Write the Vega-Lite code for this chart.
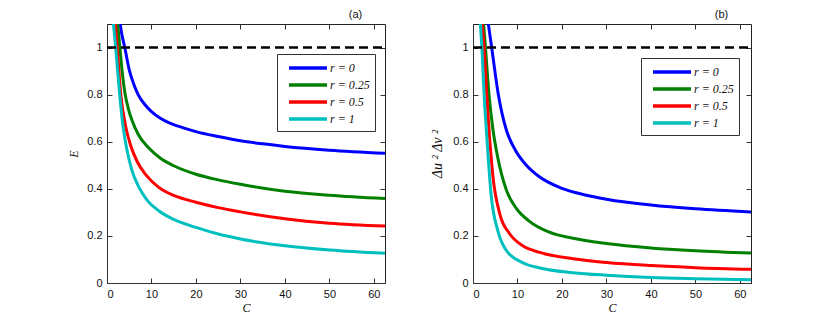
{
  "$schema": "https://vega.github.io/schema/vega-lite/v6.json",
  "padding": {"left": 67, "top": 8, "right": 0, "bottom": 0},
  "background": "white",
  "bounds": "flush",
  "spacing": 88,
  "config": {
    "view": {"stroke": "#222", "strokeWidth": 1},
    "axis": {
      "grid": false,
      "domainColor": "#333",
      "tickColor": "#333",
      "tickSize": -5,
      "labelPadding": 10,
      "labelFont": "Liberation Sans",
      "labelFontSize": 11,
      "labelColor": "#111",
      "titleFont": "Liberation Serif",
      "titleFontStyle": "italic",
      "titleFontWeight": "normal",
      "titleFontSize": 12,
      "titleColor": "#111"
    },
    "legend": {
      "title": null,
      "orient": "none",
      "symbolType": "M-1,0H4.43",
      "symbolSize": 196,
      "symbolStrokeWidth": 3.5,
      "symbolOffset": 5,
      "labelFont": "Liberation Serif",
      "labelFontStyle": "italic",
      "labelFontSize": 12,
      "labelColor": "#111",
      "labelOffset": 25,
      "labelExpr": "datum.label + '\u00a0\u00a0\u00a0'",
      "strokeColor": "#333",
      "fillColor": "white",
      "padding": 5,
      "rowPadding": 1
    }
  },
  "datasets": {
    "curves": [
      {"p": "a", "r": "r = 0", "C": 2.8, "v": 1.12},
      {"p": "a", "r": "r = 0", "C": 3.3, "v": 1.06},
      {"p": "a", "r": "r = 0", "C": 4.0, "v": 1.0},
      {"p": "a", "r": "r = 0", "C": 5.0, "v": 0.905},
      {"p": "a", "r": "r = 0", "C": 6.0, "v": 0.845},
      {"p": "a", "r": "r = 0", "C": 7.0, "v": 0.8},
      {"p": "a", "r": "r = 0", "C": 8.5, "v": 0.758},
      {"p": "a", "r": "r = 0", "C": 10, "v": 0.728},
      {"p": "a", "r": "r = 0", "C": 12, "v": 0.7},
      {"p": "a", "r": "r = 0", "C": 14, "v": 0.68},
      {"p": "a", "r": "r = 0", "C": 17, "v": 0.66},
      {"p": "a", "r": "r = 0", "C": 20, "v": 0.643},
      {"p": "a", "r": "r = 0", "C": 25, "v": 0.622},
      {"p": "a", "r": "r = 0", "C": 30, "v": 0.604},
      {"p": "a", "r": "r = 0", "C": 35, "v": 0.591},
      {"p": "a", "r": "r = 0", "C": 40, "v": 0.58},
      {"p": "a", "r": "r = 0", "C": 50, "v": 0.564},
      {"p": "a", "r": "r = 0", "C": 62.5, "v": 0.551},

      {"p": "a", "r": "r = 0.25", "C": 2.3, "v": 1.12},
      {"p": "a", "r": "r = 0.25", "C": 2.9, "v": 1.0},
      {"p": "a", "r": "r = 0.25", "C": 3.4, "v": 0.9},
      {"p": "a", "r": "r = 0.25", "C": 4.0, "v": 0.81},
      {"p": "a", "r": "r = 0.25", "C": 4.8, "v": 0.74},
      {"p": "a", "r": "r = 0.25", "C": 5.7, "v": 0.687},
      {"p": "a", "r": "r = 0.25", "C": 7.0, "v": 0.632},
      {"p": "a", "r": "r = 0.25", "C": 9.4, "v": 0.573},
      {"p": "a", "r": "r = 0.25", "C": 12, "v": 0.53},
      {"p": "a", "r": "r = 0.25", "C": 15, "v": 0.498},
      {"p": "a", "r": "r = 0.25", "C": 20, "v": 0.462},
      {"p": "a", "r": "r = 0.25", "C": 25, "v": 0.438},
      {"p": "a", "r": "r = 0.25", "C": 30, "v": 0.419},
      {"p": "a", "r": "r = 0.25", "C": 40, "v": 0.39},
      {"p": "a", "r": "r = 0.25", "C": 50, "v": 0.373},
      {"p": "a", "r": "r = 0.25", "C": 62.5, "v": 0.359},

      {"p": "a", "r": "r = 0.5", "C": 1.8, "v": 1.12},
      {"p": "a", "r": "r = 0.5", "C": 2.3, "v": 1.0},
      {"p": "a", "r": "r = 0.5", "C": 3.1, "v": 0.8},
      {"p": "a", "r": "r = 0.5", "C": 4.2, "v": 0.665},
      {"p": "a", "r": "r = 0.5", "C": 5.3, "v": 0.585},
      {"p": "a", "r": "r = 0.5", "C": 6.8, "v": 0.515},
      {"p": "a", "r": "r = 0.5", "C": 8.7, "v": 0.46},
      {"p": "a", "r": "r = 0.5", "C": 11.7, "v": 0.405},
      {"p": "a", "r": "r = 0.5", "C": 15, "v": 0.372},
      {"p": "a", "r": "r = 0.5", "C": 20, "v": 0.343},
      {"p": "a", "r": "r = 0.5", "C": 25, "v": 0.32},
      {"p": "a", "r": "r = 0.5", "C": 30, "v": 0.302},
      {"p": "a", "r": "r = 0.5", "C": 40, "v": 0.273},
      {"p": "a", "r": "r = 0.5", "C": 50, "v": 0.254},
      {"p": "a", "r": "r = 0.5", "C": 62.5, "v": 0.242},

      {"p": "a", "r": "r = 1", "C": 1.35, "v": 1.12},
      {"p": "a", "r": "r = 1", "C": 1.95, "v": 1.0},
      {"p": "a", "r": "r = 1", "C": 2.85, "v": 0.8},
      {"p": "a", "r": "r = 1", "C": 3.6, "v": 0.665},
      {"p": "a", "r": "r = 1", "C": 4.6, "v": 0.555},
      {"p": "a", "r": "r = 1", "C": 5.5, "v": 0.485},
      {"p": "a", "r": "r = 1", "C": 7.2, "v": 0.406},
      {"p": "a", "r": "r = 1", "C": 9, "v": 0.352},
      {"p": "a", "r": "r = 1", "C": 11.7, "v": 0.306},
      {"p": "a", "r": "r = 1", "C": 15, "v": 0.27},
      {"p": "a", "r": "r = 1", "C": 20, "v": 0.236},
      {"p": "a", "r": "r = 1", "C": 25, "v": 0.208},
      {"p": "a", "r": "r = 1", "C": 30, "v": 0.187},
      {"p": "a", "r": "r = 1", "C": 40, "v": 0.158},
      {"p": "a", "r": "r = 1", "C": 50, "v": 0.14},
      {"p": "a", "r": "r = 1", "C": 62.5, "v": 0.126},

      {"p": "b", "r": "r = 0", "C": 3.3, "v": 1.12},
      {"p": "b", "r": "r = 0", "C": 4.2, "v": 1.0},
      {"p": "b", "r": "r = 0", "C": 5.7, "v": 0.8},
      {"p": "b", "r": "r = 0", "C": 7.5, "v": 0.65},
      {"p": "b", "r": "r = 0", "C": 9.5, "v": 0.565},
      {"p": "b", "r": "r = 0", "C": 12, "v": 0.5},
      {"p": "b", "r": "r = 0", "C": 15, "v": 0.45},
      {"p": "b", "r": "r = 0", "C": 20, "v": 0.402},
      {"p": "b", "r": "r = 0", "C": 25, "v": 0.375},
      {"p": "b", "r": "r = 0", "C": 30, "v": 0.356},
      {"p": "b", "r": "r = 0", "C": 40, "v": 0.331},
      {"p": "b", "r": "r = 0", "C": 50, "v": 0.315},
      {"p": "b", "r": "r = 0", "C": 62.5, "v": 0.302},

      {"p": "b", "r": "r = 0.25", "C": 2.3, "v": 1.12},
      {"p": "b", "r": "r = 0.25", "C": 2.8, "v": 1.0},
      {"p": "b", "r": "r = 0.25", "C": 3.6, "v": 0.8},
      {"p": "b", "r": "r = 0.25", "C": 4.5, "v": 0.65},
      {"p": "b", "r": "r = 0.25", "C": 5.6, "v": 0.53},
      {"p": "b", "r": "r = 0.25", "C": 7.5, "v": 0.395},
      {"p": "b", "r": "r = 0.25", "C": 9.7, "v": 0.318},
      {"p": "b", "r": "r = 0.25", "C": 12.7, "v": 0.262},
      {"p": "b", "r": "r = 0.25", "C": 17, "v": 0.217},
      {"p": "b", "r": "r = 0.25", "C": 22.5, "v": 0.19},
      {"p": "b", "r": "r = 0.25", "C": 30, "v": 0.168},
      {"p": "b", "r": "r = 0.25", "C": 40, "v": 0.149},
      {"p": "b", "r": "r = 0.25", "C": 50, "v": 0.137},
      {"p": "b", "r": "r = 0.25", "C": 62.5, "v": 0.127},

      {"p": "b", "r": "r = 0.5", "C": 1.95, "v": 1.12},
      {"p": "b", "r": "r = 0.5", "C": 2.5, "v": 1.0},
      {"p": "b", "r": "r = 0.5", "C": 3.1, "v": 0.8},
      {"p": "b", "r": "r = 0.5", "C": 3.5, "v": 0.68},
      {"p": "b", "r": "r = 0.5", "C": 4.5, "v": 0.45},
      {"p": "b", "r": "r = 0.5", "C": 6.0, "v": 0.295},
      {"p": "b", "r": "r = 0.5", "C": 8.2, "v": 0.21},
      {"p": "b", "r": "r = 0.5", "C": 11.2, "v": 0.158},
      {"p": "b", "r": "r = 0.5", "C": 15, "v": 0.13},
      {"p": "b", "r": "r = 0.5", "C": 22.5, "v": 0.103},
      {"p": "b", "r": "r = 0.5", "C": 30, "v": 0.087},
      {"p": "b", "r": "r = 0.5", "C": 40, "v": 0.074},
      {"p": "b", "r": "r = 0.5", "C": 50, "v": 0.065},
      {"p": "b", "r": "r = 0.5", "C": 62.5, "v": 0.058},

      {"p": "b", "r": "r = 1", "C": 1.6, "v": 1.12},
      {"p": "b", "r": "r = 1", "C": 2.0, "v": 1.0},
      {"p": "b", "r": "r = 1", "C": 2.5, "v": 0.8},
      {"p": "b", "r": "r = 1", "C": 3.0, "v": 0.65},
      {"p": "b", "r": "r = 1", "C": 4.1, "v": 0.37},
      {"p": "b", "r": "r = 1", "C": 5.6, "v": 0.22},
      {"p": "b", "r": "r = 1", "C": 7.5, "v": 0.138},
      {"p": "b", "r": "r = 1", "C": 11.2, "v": 0.086},
      {"p": "b", "r": "r = 1", "C": 15, "v": 0.064},
      {"p": "b", "r": "r = 1", "C": 22.5, "v": 0.044},
      {"p": "b", "r": "r = 1", "C": 30, "v": 0.033},
      {"p": "b", "r": "r = 1", "C": 40, "v": 0.023},
      {"p": "b", "r": "r = 1", "C": 50, "v": 0.018},
      {"p": "b", "r": "r = 1", "C": 62.5, "v": 0.014}
    ],
    "ref": [{"level": 1}]
  },
  "resolve": {"legend": {"color": "independent"}},
  "hconcat": [
    {
      "width": 278,
      "height": 259,
      "title": {"text": "(a)", "anchor": "end", "dx": -24, "offset": 4, "font": "Liberation Sans", "fontSize": 11, "fontWeight": "normal", "color": "#111"},
      "layer": [
        {
          "data": {"name": "curves"},
          "transform": [{"filter": "datum.p === 'a'"}],
          "mark": {"type": "line", "clip": true, "strokeWidth": 3, "interpolate": "monotone"},
          "encoding": {
            "x": {"field": "C", "type": "quantitative", "scale": {"domain": [0, 62.5], "nice": false, "zero": false},
                  "axis": {"orient": "bottom", "values": [0, 10, 20, 30, 40, 50, 60], "title": "C", "titlePadding": 3}},
            "y": {"field": "v", "type": "quantitative", "scale": {"domain": [0, 1.1], "nice": false},
                  "axis": {"orient": "left", "values": [0, 0.2, 0.4, 0.6, 0.8, 1], "format": "~g", "title": "E", "titlePadding": 6}},
            "color": {"field": "r", "type": "nominal",
                      "scale": {"domain": ["r = 0", "r = 0.25", "r = 0.5", "r = 1"], "range": ["#0000ff", "#008000", "#ff0000", "#00bfbf"]},
                      "legend": {"legendX": 170, "legendY": 30}}
          }
        },
        {
          "data": {"name": "ref"},
          "mark": {"type": "rule", "color": "black", "strokeWidth": 2.5, "strokeDash": [9, 5]},
          "encoding": {
            "y": {"field": "level", "type": "quantitative", "scale": {"domain": [0, 1.1], "nice": false},
                  "axis": {"orient": "right", "values": [0, 0.2, 0.4, 0.6, 0.8, 1], "labels": false, "title": null, "domain": false}},
            "x": {"datum": 0, "type": "quantitative", "scale": {"domain": [0, 62.5], "nice": false},
                  "axis": {"orient": "top", "values": [0, 10, 20, 30, 40, 50, 60], "labels": false, "title": null, "domain": false}},
            "x2": {"datum": 62.5}
          }
        }
      ],
      "resolve": {"axis": {"x": "independent", "y": "independent"}}
    },
    {
      "width": 278,
      "height": 259,
      "title": {"text": "(b)", "anchor": "end", "dx": -24, "offset": 4, "font": "Liberation Sans", "fontSize": 11, "fontWeight": "normal", "color": "#111"},
      "layer": [
        {
          "data": {"name": "curves"},
          "transform": [{"filter": "datum.p === 'b'"}],
          "mark": {"type": "line", "clip": true, "strokeWidth": 3, "interpolate": "monotone"},
          "encoding": {
            "x": {"field": "C", "type": "quantitative", "scale": {"domain": [0, 62.5], "nice": false, "zero": false},
                  "axis": {"orient": "bottom", "values": [0, 10, 20, 30, 40, 50, 60], "title": "C", "titlePadding": 3}},
            "y": {"field": "v", "type": "quantitative", "scale": {"domain": [0, 1.1], "nice": false},
                  "axis": {"orient": "left", "values": [0, 0.2, 0.4, 0.6, 0.8, 1], "format": "~g", "title": "Δu ² Δv ²", "titleFontSize": 14, "titlePadding": 8}},
            "color": {"field": "r", "type": "nominal",
                      "scale": {"domain": ["r = 0", "r = 0.25", "r = 0.5", "r = 1"], "range": ["#0000ff", "#008000", "#ff0000", "#00bfbf"]},
                      "legend": {"legendX": 168, "legendY": 34}}
          }
        },
        {
          "data": {"name": "ref"},
          "mark": {"type": "rule", "color": "black", "strokeWidth": 2.5, "strokeDash": [9, 5]},
          "encoding": {
            "y": {"field": "level", "type": "quantitative", "scale": {"domain": [0, 1.1], "nice": false},
                  "axis": {"orient": "right", "values": [0, 0.2, 0.4, 0.6, 0.8, 1], "labels": false, "title": null, "domain": false}},
            "x": {"datum": 0, "type": "quantitative", "scale": {"domain": [0, 62.5], "nice": false},
                  "axis": {"orient": "top", "values": [0, 10, 20, 30, 40, 50, 60], "labels": false, "title": null, "domain": false}},
            "x2": {"datum": 62.5}
          }
        }
      ],
      "resolve": {"axis": {"x": "independent", "y": "independent"}}
    }
  ]
}
